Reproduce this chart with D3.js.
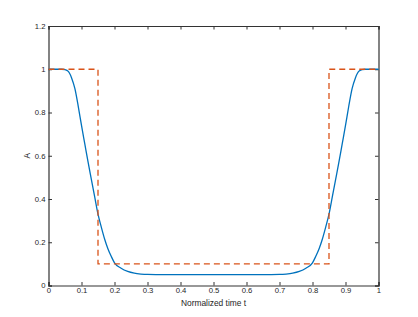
<!DOCTYPE html>
<html>
<head>
<meta charset="utf-8">
<script src="https://cdn.jsdelivr.net/npm/d3@7"></script>
<style>
  body { margin: 0; background: #fff; }
  text { font-family: "Liberation Sans", Arial, sans-serif; fill: #262626; }
</style>
</head>
<body>
<svg id="chart" width="418" height="317"></svg>
<script>
// smooth amplitude curve
const tSmooth = [0, 0.02, 0.04, 0.05, 0.06, 0.07, 0.08, 0.09, 0.10, 0.11, 0.12, 0.13, 0.14, 0.15, 0.16, 0.17, 0.18, 0.19, 0.20, 0.22, 0.24, 0.26, 0.28, 0.30, 0.35,
  0.65, 0.70, 0.72, 0.74, 0.76, 0.78, 0.80, 0.81, 0.82, 0.83, 0.84, 0.85, 0.86, 0.87, 0.88, 0.89, 0.90, 0.91, 0.92, 0.93, 0.94, 0.95, 0.96, 0.98, 1];
const aSmooth = [1, 1, 1, 0.998, 0.99, 0.96, 0.91, 0.83, 0.74, 0.655, 0.57, 0.49, 0.41, 0.33, 0.27, 0.215, 0.17, 0.135, 0.105, 0.08, 0.065, 0.057, 0.053, 0.051, 0.05,
  0.05, 0.051, 0.053, 0.057, 0.065, 0.08, 0.105, 0.135, 0.17, 0.215, 0.27, 0.33, 0.41, 0.49, 0.57, 0.655, 0.74, 0.83, 0.91, 0.96, 0.99, 0.998, 1, 1, 1];
// piecewise step reference (dashed)
const tStep = [0, 0.15, 0.15, 0.85, 0.85, 1];
const aStep = [1, 1, 0.1, 0.1, 1, 1];

const xTicks = [0, 0.1, 0.2, 0.3, 0.4, 0.5, 0.6, 0.7, 0.8, 0.9, 1];
const yTicks = [0, 0.2, 0.4, 0.6, 0.8, 1, 1.2];

const margin = {left: 48.5, top: 26, right: 418 - 378.5, bottom: 317 - 285.5};
const svg = d3.select('#chart');
const w = 418 - margin.left - margin.right;
const h = 317 - margin.top - margin.bottom;
const g = svg.append('g').attr('transform', 'translate(' + margin.left + ',' + margin.top + ')');

const x = d3.scaleLinear().domain([0, 1]).range([0, w]);
const y = d3.scaleLinear().domain([0, 1.2]).range([h, 0]);

const axisStyle = (sel) => {
  sel.select('.domain').attr('stroke', '#333').attr('stroke-width', 1.2);
  sel.selectAll('.tick line').attr('stroke', '#333');
  sel.selectAll('.tick text').style('font-size', '7.7px').attr('fill', '#262626');
};

g.append('g').attr('transform', 'translate(0,' + h + ')')
  .call(d3.axisBottom(x).tickValues(xTicks).tickSize(-3.5).tickPadding(2).tickFormat(d3.format('')))
  .call(axisStyle);
g.append('g')
  .call(d3.axisLeft(y).tickValues(yTicks).tickSize(-3.5).tickPadding(3).tickFormat(d3.format('')))
  .call(axisStyle);
g.append('g')
  .call(d3.axisTop(x).tickValues(xTicks).tickSize(-3.5).tickFormat(''))
  .call(axisStyle);
g.append('g').attr('transform', 'translate(' + w + ',0)')
  .call(d3.axisRight(y).tickValues(yTicks).tickSize(-3.5).tickFormat(''))
  .call(axisStyle);

const line = d3.line().x(d => x(d[0])).y(d => y(d[1]));

g.append('path')
  .datum(d3.zip(tSmooth, aSmooth))
  .attr('d', line.curve(d3.curveMonotoneX))
  .attr('fill', 'none')
  .attr('stroke', '#0072bd')
  .attr('stroke-width', 1.3);

g.append('path')
  .datum(d3.zip(tStep, aStep))
  .attr('d', d3.line().x(d => x(d[0])).y(d => y(d[1])))
  .attr('fill', 'none')
  .attr('stroke', '#d95319')
  .attr('stroke-width', 1.3)
  .attr('stroke-dasharray', '6,4');

svg.append('text')
  .attr('x', margin.left + w / 2)
  .attr('y', 305.5)
  .attr('text-anchor', 'middle')
  .style('font-size', '8.4px')
  .text('Normalized time t');

svg.append('text')
  .attr('transform', 'translate(29.5,' + (margin.top + h / 2) + ') rotate(-90)')
  .attr('text-anchor', 'middle')
  .style('font-size', '8.4px')
  .text('A');
</script>
</body>
</html>
